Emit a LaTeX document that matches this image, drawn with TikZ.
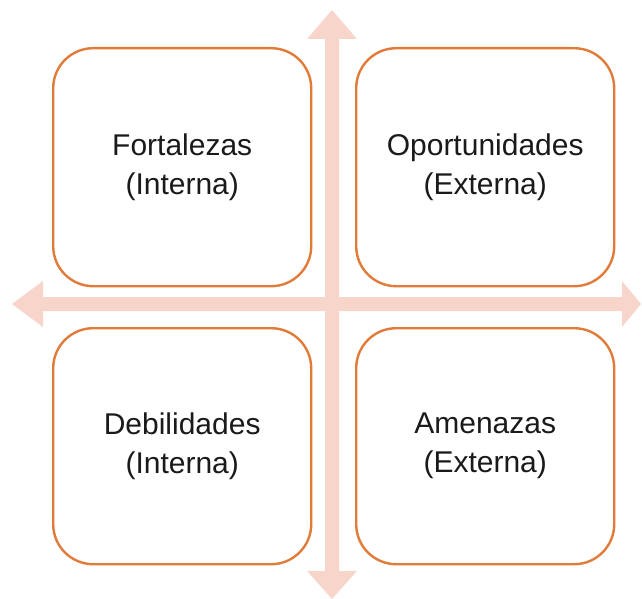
\documentclass[tikz,border=0pt]{standalone}
\usepackage{fontspec}
\setmainfont{Liberation Sans}
\definecolor{boxorange}{HTML}{E07B39}
\definecolor{arrowpeach}{HTML}{F8D5CA}
\definecolor{textdark}{HTML}{1A1A1A}
\newcommand{\quadfont}{\fontsize{30}{39}\selectfont}
\begin{document}
\begin{tikzpicture}[x=1pt,y=-1pt,
  quad/.style={draw=boxorange, line width=2.4pt, rounded corners=40pt, fill=white,
    minimum width=258pt, minimum height=238pt, anchor=north west, inner sep=0pt,
    align=center, font=\quadfont, text=textdark},
  axis/.style={fill=arrowpeach, draw=none}]
\useasboundingbox (0,0) rectangle (642,599);
% vertical axis arrow
\fill[axis] (332,10) -- (357,39) -- (339,39) -- (339,571) -- (357,571) -- (332,599)
  -- (307,571) -- (325,571) -- (325,39) -- (307,39) -- cycle;
% horizontal axis arrow
\fill[axis] (12,304) -- (43,281) -- (43,297) -- (622,297) -- (622,281) -- (641,304)
  -- (622,327) -- (622,311) -- (43,311) -- (43,327) -- cycle;
\node[quad] (f) at (52,47) {Fortalezas\\(Interna)};
\node[quad] (o) at (355,47) {Oportunidades\\(Externa)};
\node[quad, minimum height=236pt] (d) at (52,327) {Debilidades\\(Interna)};
\node[quad, minimum height=236pt] (a) at (355,327) {Amenazas\\(Externa)};
\end{tikzpicture}
\end{document}
